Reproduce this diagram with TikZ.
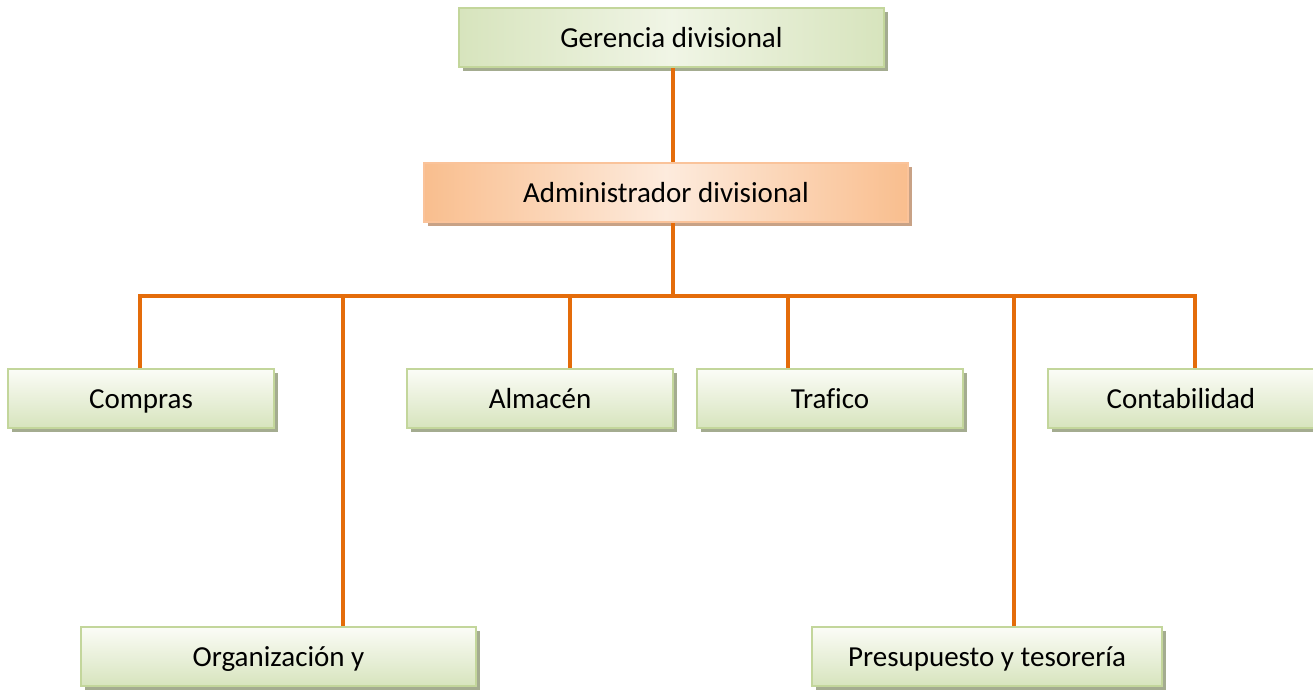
\documentclass[tikz,border=0pt]{standalone}
\usepackage{fontspec}
\setmainfont{Carlito}[Ligatures=NoCommon]
\usetikzlibrary{shadows}
\definecolor{linkorange}{HTML}{E46C0A}
\definecolor{greenedge}{HTML}{C3D69B}
\definecolor{greendark}{HTML}{D7E4BD}
\definecolor{greenlight}{HTML}{FBFCF7}
\definecolor{greenshadow}{HTML}{A4AC90}
\definecolor{orangeedge}{HTML}{FAC39A}
\definecolor{orangedark}{HTML}{F9BE8E}
\definecolor{orangelight}{HTML}{FDEBDD}
\definecolor{orangeshadow}{HTML}{C8A286}
\tikzstyle{unit} = [rectangle, minimum width=266pt, minimum height=59pt, text centered, text height=20pt, text depth=0pt, draw=greenedge, line width=2pt, top color=greenlight, bottom color=greendark, drop shadow={shadow xshift=3.5pt, shadow yshift=-4pt, fill=greenshadow, opacity=1}, font=\fontsize{29}{35}\selectfont]
\tikzstyle{head} = [unit, left color=greendark, right color=greendark, middle color=greenlight!70!greendark]
\tikzstyle{admin} = [unit, draw=orangeedge, left color=orangedark, right color=orangedark, middle color=orangelight, drop shadow={shadow xshift=3.5pt, shadow yshift=-4pt, fill=orangeshadow, opacity=1}]
\tikzstyle{link} = [linkorange, line width=4.5pt]

\begin{document}
\begin{tikzpicture}[x=1pt, y=1pt, node distance=206pt]
\useasboundingbox (0,0) rectangle (1313,-689);

\node (ger) [head, minimum width=425pt] at (671.5,-37.5) {Gerencia divisional};
\node (adm) [admin, below of=ger, yshift=51pt, xshift=-5.5pt, minimum width=484pt] {Administrador divisional};
\node (com) [unit, below of=adm, xshift=-525pt] {Compras};
\node (alm) [unit, below of=adm, xshift=-126pt] {Almacén};
\node (tra) [unit, below of=adm, xshift=164pt] {Trafico};
\node (con) [unit, below of=adm, xshift=515pt] {Contabilidad};
\node (org) [unit, below of=com, yshift=-52pt, xshift=137.5pt, minimum width=395pt] {Organización y};
\node (pre) [unit, below of=tra, yshift=-52pt, xshift=157pt, minimum width=350pt] {Presupuesto y tesorería};

\coordinate (bus) at ([xshift=7pt]adm.south |- 0,-296);

\draw [link] ([xshift=1.5pt]ger.south) -- ([xshift=7pt]adm.north);
\draw [link] ([xshift=7pt]adm.south) -- (bus);
\draw [link] ([xshift=-1pt]com.north) |- (bus) -| ([xshift=14pt]con.north);
\draw [link] ([xshift=30pt]alm.north) -- ([xshift=30pt]alm.north |- bus);
\draw [link] ([xshift=-42pt]tra.north) -- ([xshift=-42pt]tra.north |- bus);
\draw [link] ([xshift=64.5pt]org.north) -- ([xshift=64.5pt]org.north |- bus);
\draw [link] ([xshift=27pt]pre.north) -- ([xshift=27pt]pre.north |- bus);

\end{tikzpicture}
\end{document}
